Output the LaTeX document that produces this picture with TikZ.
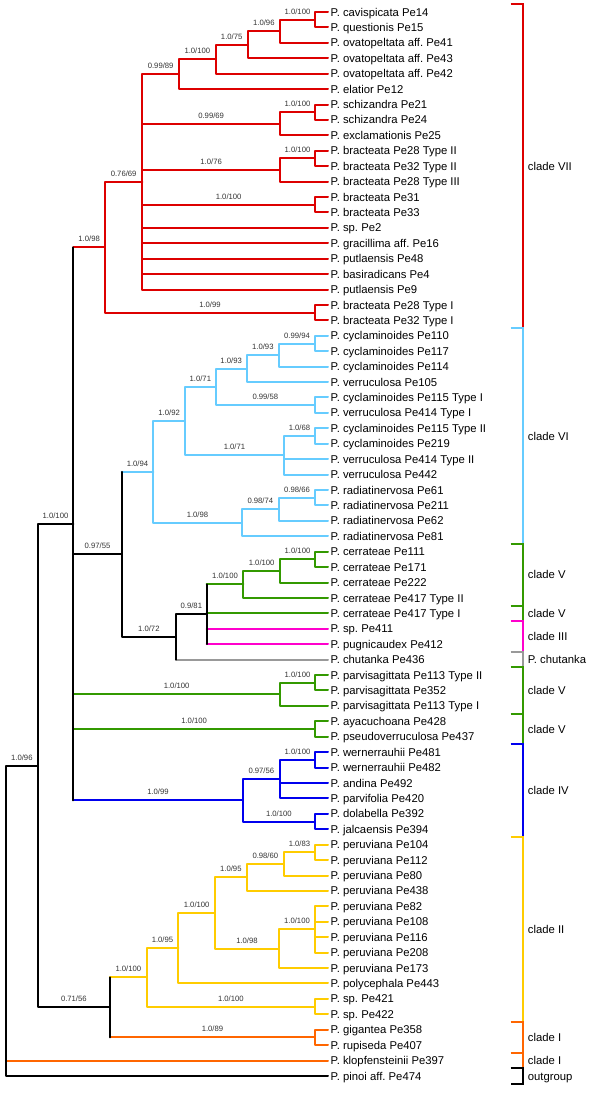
\documentclass[tikz,border=0pt]{standalone}
\usepackage{fontspec}
\setmainfont{Liberation Sans}
\usepackage{xcolor}
\definecolor{cVII}{RGB}{221,0,0}
\definecolor{cVI}{RGB}{102,204,255}
\definecolor{cV}{RGB}{51,153,0}
\definecolor{cIII}{RGB}{255,0,204}
\definecolor{cchut}{RGB}{153,153,153}
\definecolor{cIV}{RGB}{0,0,238}
\definecolor{cII}{RGB}{255,204,0}
\definecolor{cI}{RGB}{255,102,0}
\frenchspacing
\begin{document}
\begin{tikzpicture}[
    x=1pt, y=-15.42pt,
    every node/.style={font=\fontsize{11.3}{13}\selectfont},
    br/.style={line width=2pt, line cap=round, line join=round},
    lbl/.style={font=\fontsize{7.7}{9}\selectfont, anchor=base, yshift=5.5pt, inner sep=0pt, text=black!80},
    leaf/.style={anchor=west, inner sep=2.5pt, text height=8.1pt, text depth=0pt},
    clade/.style={anchor=west, inner sep=0pt, text height=8.1pt, text depth=0pt},
    bk/.style={line width=2pt},
]
    \useasboundingbox (0,0.2218) rectangle (600,71.17);

    % --- leaves ---
    \foreach \name [count=\i] in {P. cavispicata Pe14, P. questionis Pe15, P. ovatopeltata aff. Pe41,
        P. ovatopeltata aff. Pe43, P. ovatopeltata aff. Pe42, P. elatior Pe12, P. schizandra Pe21,
        P. schizandra Pe24, P. exclamationis Pe25, P. bracteata Pe28 Type II, P. bracteata Pe32 Type II,
        P. bracteata Pe28 Type III, P. bracteata Pe31, P. bracteata Pe33, P. sp. Pe2, P. gracillima aff. Pe16,
        P. putlaensis Pe48, P. basiradicans Pe4, P. putlaensis Pe9, P. bracteata Pe28 Type I,
        P. bracteata Pe32 Type I, P. cyclaminoides Pe110, P. cyclaminoides Pe117, P. cyclaminoides Pe114,
        P. verruculosa Pe105, P. cyclaminoides Pe115 Type I, P. verruculosa Pe414 Type I,
        P. cyclaminoides Pe115 Type II, P. cyclaminoides Pe219, P. verruculosa Pe414 Type II,
        P. verruculosa Pe442, P. radiatinervosa Pe61, P. radiatinervosa Pe211, P. radiatinervosa Pe62,
        P. radiatinervosa Pe81, P. cerrateae Pe111, P. cerrateae Pe171, P. cerrateae Pe222,
        P. cerrateae Pe417 Type II, P. cerrateae Pe417 Type I, P. sp. Pe411, P. pugnicaudex Pe412,
        P. chutanka Pe436, P. parvisagittata Pe113 Type II, P. parvisagittata Pe352,
        P. parvisagittata Pe113 Type I, P. ayacuchoana Pe428, P. pseudoverruculosa Pe437,
        P. wernerrauhii Pe481, P. wernerrauhii Pe482, P. andina Pe492, P. parvifolia Pe420,
        P. dolabella Pe392, P. jalcaensis Pe394, P. peruviana Pe104, P. peruviana Pe112, P. peruviana Pe80,
        P. peruviana Pe438, P. peruviana Pe82, P. peruviana Pe108, P. peruviana Pe116, P. peruviana Pe208,
        P. peruviana Pe173, P. polycephala Pe443, P. sp. Pe421, P. sp. Pe422, P. gigantea Pe358,
        P. rupiseda Pe407, P. klopfensteinii Pe397, P. pinoi aff. Pe474}
        \node[leaf] (l\i) at (328,\i) {\name};

    % --- internal nodes ---
    \coordinate (kr) at (6,59.94);
    \coordinate (k0) at (37.7,49.87);
    \coordinate (k1) at (73.3,34.19);
    \coordinate (k2) at (121.7,36.18);
    \coordinate (k3) at (176,41.531);
    \coordinate (k4) at (206.7,40.0625);
    \coordinate (k5) at (110,65.555);
    \coordinate (r0) at (105,16.258);
    \coordinate (r1) at (142.3,12.016);
    \coordinate (r2) at (179,5.031);
    \coordinate (r3) at (215.7,4.0625);
    \coordinate (r4) at (247.7,3.125);
    \coordinate (r5) at (280,2.25);
    \coordinate (r6) at (315,1.5);
    \coordinate (r7) at (280,8.25);
    \coordinate (r8) at (315,7.5);
    \coordinate (r9) at (280,11.25);
    \coordinate (r10) at (315,10.5);
    \coordinate (r11) at (315,13.5);
    \coordinate (r12) at (315,20.5);
    \coordinate (c1) at (153.3,30.828);
    \coordinate (c2) at (185,27.531);
    \coordinate (c3) at (215.7,25.3125);
    \coordinate (c4) at (246.7,24.125);
    \coordinate (c5) at (279,23.25);
    \coordinate (c6) at (315,22.5);
    \coordinate (c7) at (315,26.5);
    \coordinate (c8) at (284,29.75);
    \coordinate (c9) at (315,28.5);
    \coordinate (c10) at (241.7,34.125);
    \coordinate (c11) at (279,33.25);
    \coordinate (c12) at (315,32.5);
    \coordinate (g1) at (243.3,38.125);
    \coordinate (g2) at (280,37.25);
    \coordinate (g3) at (315,36.5);
    \coordinate (g4) at (280,45.25);
    \coordinate (g5) at (315,44.5);
    \coordinate (g6) at (315,47.5);
    \coordinate (u1) at (242.7,52.125);
    \coordinate (u2) at (280,50.75);
    \coordinate (u3) at (315,49.5);
    \coordinate (u4) at (315,53.5);
    \coordinate (y1) at (146.7,63.609);
    \coordinate (y2) at (178.3,61.719);
    \coordinate (y3) at (215,59.4375);
    \coordinate (y4) at (246.7,57.125);
    \coordinate (y5) at (284,56.25);
    \coordinate (y6) at (315,55.5);
    \coordinate (y7) at (279,61.75);
    \coordinate (y8) at (315,60.5);
    \coordinate (y9) at (315,65.5);
    \coordinate (o1) at (315,67.5);

    % --- clade VII ---
    \draw[br,cVII] (l1.west) -| (r6) |- (l2.west);
    \draw[br,cVII] (r6) -| node[lbl,pos=0.25]{1.0/100} (r5) |- (l3.west);
    \draw[br,cVII] (r5) -| node[lbl,pos=0.25]{1.0/96} (r4) |- (l4.west);
    \draw[br,cVII] (r4) -| node[lbl,pos=0.25]{1.0/75} (r3) |- (l5.west);
    \draw[br,cVII] (r3) -| node[lbl,pos=0.25]{1.0/100} (r2) |- (l6.west);
    \draw[br,cVII] (l7.west) -| (r8) |- (l8.west);
    \draw[br,cVII] (r8) -| node[lbl,pos=0.25]{1.0/100} (r7) |- (l9.west);
    \draw[br,cVII] (l10.west) -| (r10) |- (l11.west);
    \draw[br,cVII] (r10) -| node[lbl,pos=0.25]{1.0/100} (r9) |- (l12.west);
    \draw[br,cVII] (l13.west) -| (r11) |- (l14.west);
    \draw[br,cVII] (r2) -| node[lbl,pos=0.25]{0.99/89} (r1) |- (l19.west);
    \draw[br,cVII] (r1 |- r7) -- node[lbl]{0.99/69} (r7);
    \draw[br,cVII] (r1 |- r9) -- node[lbl]{1.0/76} (r9);
    \draw[br,cVII] (r1 |- r11) -- node[lbl]{1.0/100} (r11);
    \foreach \k in {15,...,18} \draw[br,cVII] (r1 |- l\k) -- (l\k.west);
    \draw[br,cVII] (l20.west) -| (r12) |- (l21.west);
    \draw[br,cVII] (r1) -| node[lbl,pos=0.25]{0.76/69} (r0) |- node[lbl,pos=0.75]{1.0/99} (r12);

    % --- clade VI ---
    \draw[br,cVI] (l22.west) -| (c6) |- (l23.west);
    \draw[br,cVI] (c6) -| node[lbl,pos=0.25]{0.99/94} (c5) |- (l24.west);
    \draw[br,cVI] (c5) -| node[lbl,pos=0.25]{1.0/93} (c4) |- (l25.west);
    \draw[br,cVI] (l26.west) -| (c7) |- (l27.west);
    \draw[br,cVI] (c4) -| node[lbl,pos=0.25]{1.0/93} (c3) |- node[lbl,pos=0.75]{0.99/58} (c7);
    \draw[br,cVI] (l28.west) -| (c9) |- (l29.west);
    \draw[br,cVI] (c9) -| node[lbl,pos=0.25]{1.0/68} (c8) |- (l31.west);
    \draw[br,cVI] (c8 |- l30) -- (l30.west);
    \draw[br,cVI] (c3) -| node[lbl,pos=0.25]{1.0/71} (c2) |- node[lbl,pos=0.75]{1.0/71} (c8);
    \draw[br,cVI] (l32.west) -| (c12) |- (l33.west);
    \draw[br,cVI] (c12) -| node[lbl,pos=0.25]{0.98/66} (c11) |- (l34.west);
    \draw[br,cVI] (c11) -| node[lbl,pos=0.25]{0.98/74} (c10) |- (l35.west);
    \draw[br,cVI] (c2) -| node[lbl,pos=0.25]{1.0/92} (c1) |- node[lbl,pos=0.75]{1.0/98} (c10);
    \draw[br,cVI] (k2 |- c1) -- node[lbl]{1.0/94} (c1);

    % --- clades V, III, chutanka ---
    \draw[br,cV] (l36.west) -| (g3) |- (l37.west);
    \draw[br,cV] (g3) -| node[lbl,pos=0.25]{1.0/100} (g2) |- (l38.west);
    \draw[br,cV] (g2) -| node[lbl,pos=0.25]{1.0/100} (g1) |- (l39.west);
    \draw[br,cV] (k4 |- g1) -- node[lbl]{1.0/100} (g1);
    \draw[br,cV] (k4 |- l40) -- (l40.west);
    \draw[br,cIII] (k4 |- l41) -- (l41.west);
    \draw[br,cIII] (k4 |- l42) -- (l42.west);
    \draw[br] (k4 |- g1) -- (k4 |- l42);
    \draw[br,cchut] (k3 |- l43) -- (l43.west);
    \draw[br] (k4) -| node[lbl,pos=0.25]{0.9/81} (k3) -- (k3 |- l43);
    \draw[br] (k3) -| node[lbl,pos=0.25]{1.0/72} (k2) -- (k2 |- c1);
    \draw[br,cV] (l44.west) -| (g5) |- (l45.west);
    \draw[br,cV] (g5) -| node[lbl,pos=0.25]{1.0/100} (g4) |- (l46.west);
    \draw[br,cV] (l47.west) -| (g6) |- (l48.west);
    \draw[br,cV] (k1 |- g4) -- node[lbl]{1.0/100} (g4);
    \draw[br,cV] (k1 |- g6) -- node[lbl]{1.0/100} (g6);

    % --- clade IV ---
    \draw[br,cIV] (l49.west) -| (u3) |- (l50.west);
    \draw[br,cIV] (u3) -| node[lbl,pos=0.25]{1.0/100} (u2) |- (l52.west);
    \draw[br,cIV] (u2 |- l51) -- (l51.west);
    \draw[br,cIV] (l53.west) -| (u4) |- (l54.west);
    \draw[br,cIV] (u2) -| node[lbl,pos=0.25]{0.97/56} (u1) |- node[lbl,pos=0.75]{1.0/100} (u4);
    \draw[br,cIV] (k1 |- u1) -- node[lbl]{1.0/99} (u1);

    % --- clades II and I ---
    \draw[br,cII] (l55.west) -| (y6) |- (l56.west);
    \draw[br,cII] (y6) -| node[lbl,pos=0.25]{1.0/83} (y5) |- (l57.west);
    \draw[br,cII] (y5) -| node[lbl,pos=0.25]{0.98/60} (y4) |- (l58.west);
    \draw[br,cII] (l59.west) -| (y8) |- (l62.west);
    \foreach \k in {60,61} \draw[br,cII] (y8 |- l\k) -- (l\k.west);
    \draw[br,cII] (y8) -| node[lbl,pos=0.25]{1.0/100} (y7) |- (l63.west);
    \draw[br,cII] (y4) -| node[lbl,pos=0.25]{1.0/95} (y3) |- node[lbl,pos=0.75]{1.0/98} (y7);
    \draw[br,cII] (y3) -| node[lbl,pos=0.25]{1.0/100} (y2) |- (l64.west);
    \draw[br,cII] (l65.west) -| (y9) |- (l66.west);
    \draw[br,cII] (y2) -| node[lbl,pos=0.25]{1.0/95} (y1) |- node[lbl,pos=0.75]{1.0/100} (y9);
    \draw[br,cI] (l67.west) -| (o1) |- (l68.west);
    \draw[br,cII] (k5 |- y1) -- node[lbl]{1.0/100} (y1);
    \draw[br,cI] (k5 |- o1) -- node[lbl]{1.0/89} (o1);
    \draw[br] (k5 |- y1) -- (k5 |- o1);

    % --- backbone ---
    \draw[br,cVII] (k1 |- r0) -- node[lbl]{1.0/98} (r0);
    \draw[br] (k1 |- k2) -- node[lbl]{0.97/55} (k2);
    \draw[br] (k1 |- r0) -- (k1 |- u1);
    \draw[br] (k1) -| node[lbl,pos=0.25]{1.0/100} (k0) |- node[lbl,pos=0.75]{0.71/56} (k5);
    \draw[br,cI] (kr |- l69) -- (l69.west);
    \draw[br] (k0) -| node[lbl,pos=0.25]{1.0/96} (kr) |- (l70.west);

    % --- clade brackets ---
    \foreach \t/\b/\c/\txt [count=\j] in {0.5/21.5/cVII/clade VII, 21.5/35.5/cVI/clade VI,
        35.5/39.5/cV/clade V, 39.5/40.5/cV/clade V, 40.5/42.5/cIII/clade III,
        42.5/43.5/cchut/P. chutanka, 43.5/46.5/cV/clade V, 46.5/48.5/cV/clade V,
        48.5/54.5/cIV/clade IV, 54.5/66.5/cII/clade II, 66.5/68.5/cI/clade I,
        68.5/69.5/cI/clade I, 69.5/70.5/black/outgroup} {
        \draw[bk,\c] (510.7,\t) -| (523.3,\b) -- (510.7,\b);
        \node[clade] (t\j) at (527.7,{(\t+\b)/2}) {\txt};
    }
\end{tikzpicture}
\end{document}
